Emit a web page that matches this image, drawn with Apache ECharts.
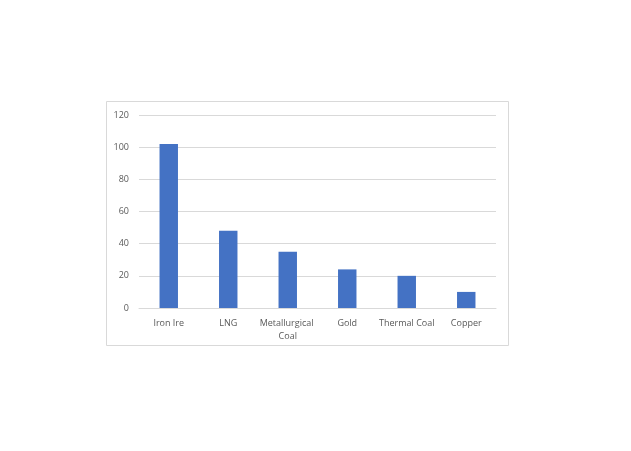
<!DOCTYPE html>
<html>
<head>
<meta charset="utf-8">
<script src="https://cdn.jsdelivr.net/npm/echarts@6/dist/echarts.min.js"></script>
<style>
  html, body { margin: 0; padding: 0; background: #fff; }
  #chart { width: 631px; height: 451px; }
</style>
</head>
<body>
<div id="chart"></div>
<script>
var categories = ['Iron Ire', 'LNG', 'Metallurgical Coal', 'Gold', 'Thermal Coal', 'Copper'];
var values = [102, 48, 35, 24, 20, 10];
var yTicks = [0, 20, 40, 60, 80, 100, 120];

var chart = echarts.init(document.getElementById('chart'));
chart.setOption({
  backgroundColor: '#fff',
  animation: false,
  graphic: [{
    type: 'rect',
    shape: { x: 106.5, y: 101.5, width: 402, height: 244 },
    style: { fill: 'none', stroke: '#d9d9d9', lineWidth: 1 },
    silent: true
  }],
  grid: { left: 139, right: 135, top: 115, bottom: 143 },
  xAxis: {
    type: 'category',
    data: categories,
    axisLine: { lineStyle: { color: '#d9d9d9' } },
    axisTick: { show: false },
    axisLabel: {
      color: '#595959',
      fontFamily: 'Open Sans',
      fontSize: 9,
      margin: 9,
      lineHeight: 13,
      interval: 0,
      width: 58,
      overflow: 'break'
    }
  },
  yAxis: {
    type: 'value',
    min: yTicks[0],
    max: yTicks[yTicks.length - 1],
    interval: 20,
    axisLine: { show: false },
    axisTick: { show: false },
    splitLine: { lineStyle: { color: '#d9d9d9' } },
    axisLabel: { color: '#595959', fontFamily: 'Open Sans', fontSize: 9, margin: 10 }
  },
  series: [{
    type: 'bar',
    data: values,
    barWidth: '31%',
    itemStyle: { color: '#4472c4' }
  }]
});
</script>
</body>
</html>
